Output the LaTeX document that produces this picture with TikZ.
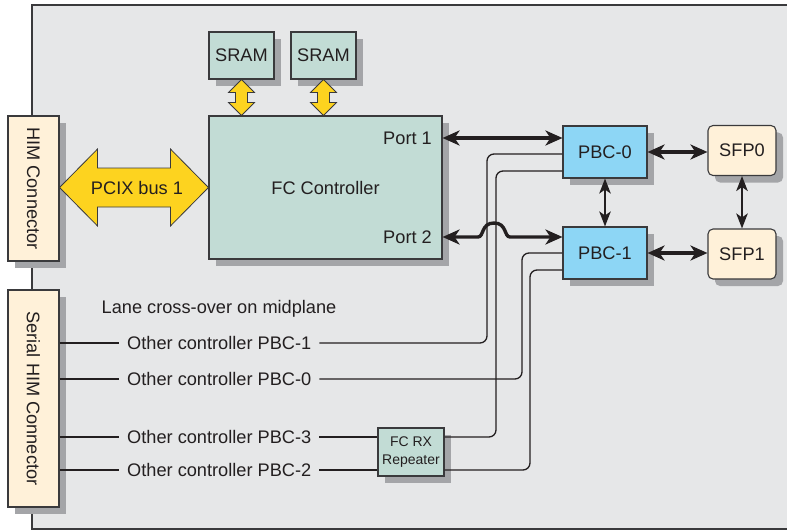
\documentclass[tikz,border=0pt]{standalone}
\usepackage{fontspec}
\setmainfont{Liberation Sans}
\usetikzlibrary{arrows.meta,shadows,calc}

\definecolor{panel}{HTML}{E6E7E8}
\definecolor{chipfill}{HTML}{C2DCD5}
\definecolor{cream}{HTML}{FFF1D9}
\definecolor{pbcblue}{HTML}{8DD6F5}
\definecolor{busyellow}{HTML}{FDD31F}
\definecolor{shgray}{HTML}{A4A5A8}
\definecolor{ink}{HTML}{231F20}
\definecolor{edge}{HTML}{3A3A3C}

% fat two-headed bus arrow between a memory chip and the controller
\newcommand\memlink[1]{%
  \draw[bus] (#1.south) -- ++(13,13) -- ++(-7,0)
    -- ($(#1.south |- fc.north)+(6,-13)$) -- ++(7,0) -- (#1.south |- fc.north)
    -- ++(-13,-13) -- ++(7,0) -- ($(#1.south)+(-6,13)$) -- ++(-7,0) -- cycle;}

\begin{document}
\begin{tikzpicture}[x=1pt,y=-1pt,
  every node/.style={text=ink, font=\fontsize{18.2pt}{21pt}\selectfont},
  box/.style={draw=edge, line width=1.1pt, rectangle, inner sep=0pt,
    drop shadow={shadow xshift=7pt, shadow yshift=-7pt, opacity=1, fill=shgray}},
  chip/.style={box, fill=chipfill},
  conn/.style={box, fill=cream, minimum width=51pt},
  pbc/.style={box, fill=pbcblue, minimum width=84pt, minimum height=52pt},
  sfp/.style={box, fill=cream, rounded corners=5pt, minimum width=68pt, minimum height=50pt},
  plain/.style={inner sep=0pt},
  lanelabel/.style={inner xsep=8pt, inner ysep=0pt, anchor=west},
  lane/.style={draw=ink, line width=1.3pt, rounded corners=7pt},
  link/.style={draw=ink, line width=3.4pt,
    {Stealth[length=17pt,width=15pt,inset=5pt]}-{Stealth[length=17pt,width=15pt,inset=5pt]}},
  thinlink/.style={draw=ink, line width=1.9pt,
    {Stealth[length=15pt,width=11.5pt,inset=4pt]}-{Stealth[length=15pt,width=11.5pt,inset=4pt]}},
  bus/.style={fill=busyellow, draw=edge, line width=0.8pt, line join=miter},
]
\useasboundingbox (0,0) rectangle (787,532);

% board
\fill[panel] (32,5) rectangle (787,529);
\draw[edge, line width=1.2pt] (787,5) -- (32,5) -- (32,529) -- (787,529);

% connectors on the left edge
\node[conn, minimum height=145pt] (him) at (33.5,188.5) {\rotatebox{-90}{HIM Connector}};
\node[conn, minimum height=217pt] (serial) at (33.5,398.5) {\rotatebox{-90}{Serial HIM Connector}};

% controller and memories
\node[chip, minimum width=65pt, minimum height=47pt] (sram1) at (241.5,55.5) {SRAM};
\node[chip, minimum width=65pt, minimum height=47pt] (sram2) at (323.5,55.5) {SRAM};
\node[chip, minimum width=233pt, minimum height=143pt] (fc) at (325.5,187.5) {FC Controller};
\node[plain, anchor=east] (port1) at (432,138) {Port 1};
\node[plain, anchor=east] (port2) at (432,237) {Port 2};

% bypass circuits and optics
\node[pbc] (pbc0) at (605,152) {PBC-0};
\node[pbc] (pbc1) at (605,253) {PBC-1};
\node[sfp] (sfp0) at (742,150.5) {SFP0};
\node[sfp] (sfp1) at (742,254) {SFP1};

% repeater
\node[chip, minimum width=66pt, minimum height=48pt, align=center,
      font=\fontsize{14pt}{18pt}\selectfont] (rep) at (411,452) {FC RX\\Repeater};

% midplane lanes
\node[plain, anchor=base west] (lanes) at (101.5,313.5) {Lane cross-over on midplane};
\node[lanelabel] (o1) at (119,343) {Other controller PBC-1};
\node[lanelabel] (o2) at (119,379) {Other controller PBC-0};
\node[lanelabel] (o3) at (119,437) {Other controller PBC-3};
\node[lanelabel] (o4) at (119,470) {Other controller PBC-2};

% PCI-X bus
\draw[bus] (him.east |- fc.west) -- ++(38,-38.5) -- ++(0,19)
  -- ($(fc.west)+(-38,-19.5)$) -- ++(0,-19) -- (fc.west)
  -- ++(-38,38.5) -- ++(0,-19) -- ($(him.east |- fc.west)+(38,19.5)$)
  -- ++(0,19) -- cycle;
\node[plain] (pcix) at (137,187.5) {PCIX bus 1};

\memlink{sram1}
\memlink{sram2}

% lanes to the bypass circuits
\draw[lane] (serial.east |- o1) -- (o1.west);
\draw[lane] (o1.east) -| (487,154) -- (pbc0.west |- 0,154);
\draw[lane] (serial.east |- o2) -- (o2.west);
\draw[lane] (o2.east) -| (522,253) -- (pbc1.west |- 0,253);
\draw[lane] (serial.east |- o3) -- (o3.west);
\draw[lane] (o3.east) -- (rep.west |- o3);
\draw[lane] (rep.east |- o3) -| (496,171) -- (pbc0.west |- 0,171);
\draw[lane] (serial.east |- o4) -- (o4.west);
\draw[lane] (o4.east) -- (rep.west |- o4);
\draw[lane] (rep.east |- o4) -| (530,270) -- (pbc1.west |- 0,270);

% fibre channel links
\draw[link] (fc.east |- port1) -- (pbc0.west |- port1);
\draw[link] (fc.east |- port2) -- (478,237)
  .. controls (484,237) and (481,223) .. (494,223)
  .. controls (507,223) and (504,237) .. (510,237)
  -- (pbc1.west |- port2);
\draw[link] (pbc0.east) -- (sfp0.west |- pbc0.east);
\draw[link] (pbc1.east) -- (sfp1.west |- pbc1.east);
\draw[thinlink] (pbc0.south) -- (pbc1.north);
\draw[thinlink] (sfp0.south) -- (sfp1.north);
\end{tikzpicture}
\end{document}
